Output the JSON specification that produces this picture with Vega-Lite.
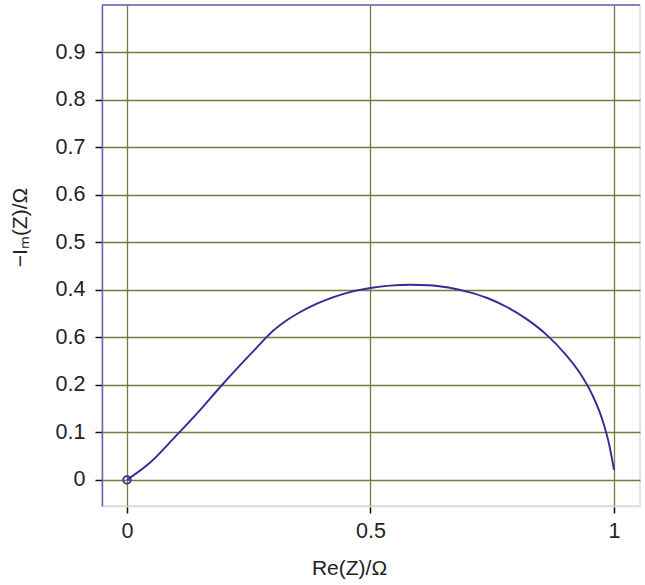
{
  "$schema": "https://vega.github.io/schema/vega-lite/v6.json",
  "autosize": "none",
  "width": 538,
  "height": 501,
  "padding": {"left": 102, "top": 5, "right": 5, "bottom": 79},
  "background": "white",
  "config": {
    "view": {"stroke": "#dcdcdc", "strokeWidth": 1.5},
    "font": "Liberation Sans"
  },
  "datasets": {
    "curve": [
      {"re": 0.0, "im": 0.0},
      {"re": 0.047, "im": 0.036},
      {"re": 0.1, "im": 0.092},
      {"re": 0.15, "im": 0.147},
      {"re": 0.19, "im": 0.194},
      {"re": 0.24, "im": 0.25},
      {"re": 0.265, "im": 0.277},
      {"re": 0.287, "im": 0.301},
      {"re": 0.3, "im": 0.314},
      {"re": 0.321, "im": 0.331},
      {"re": 0.355, "im": 0.353},
      {"re": 0.39, "im": 0.371},
      {"re": 0.424, "im": 0.385},
      {"re": 0.46, "im": 0.396},
      {"re": 0.5, "im": 0.404},
      {"re": 0.54, "im": 0.409},
      {"re": 0.58, "im": 0.411},
      {"re": 0.62, "im": 0.41},
      {"re": 0.66, "im": 0.405},
      {"re": 0.7, "im": 0.396},
      {"re": 0.74, "im": 0.383},
      {"re": 0.78, "im": 0.364},
      {"re": 0.82, "im": 0.339},
      {"re": 0.86, "im": 0.307},
      {"re": 0.9, "im": 0.265},
      {"re": 0.93, "im": 0.225},
      {"re": 0.955, "im": 0.18},
      {"re": 0.975, "im": 0.13},
      {"re": 0.99, "im": 0.075},
      {"re": 1.0, "im": 0.021}
    ],
    "marker": [{"re": 0.0, "im": 0.0}]
  },
  "layer": [
    {
      "data": {"name": "curve"},
      "mark": {"type": "line", "color": "#2e2e96", "strokeWidth": 1.9, "interpolate": "monotone", "clip": true},
      "encoding": {
        "x": {
          "field": "re", "type": "quantitative",
          "scale": {"domain": [-0.0513, 1.0534], "nice": false, "zero": false},
          "axis": {
            "title": "Re(Z)/Ω",
            "values": [0, 0.5, 1],
            "labelExpr": "datum.value == 0 ? '0' : datum.value == 1 ? '1' : '0.5'",
            "labelFont": "Liberation Sans",
            "titleFont": "Liberation Sans",
            "labelFontSize": 21.5,
            "titleFontSize": 21,
            "labelColor": "#222222",
            "titleColor": "#222222",
            "titleFontWeight": "normal",
            "tickColor": "#111111",
            "tickSize": 7,
            "tickWidth": 1.5,
            "gridColor": "#7a7a3c",
            "gridWidth": 1.3,
            "gridOpacity": 1,
            "domainColor": "#dcdcdc",
            "domainWidth": 1.5,
            "labelPadding": 7,
            "titleX": 247,
            "titleY": 68,
            "titleAnchor": null,
            "titleAlign": "center",
            "titleBaseline": "alphabetic"
          }
        },
        "y": {
          "field": "im", "type": "quantitative",
          "scale": {"domain": [-0.055, 1.0], "nice": false, "zero": false},
          "axis": {
            "title": "−Iₘ(Z)/Ω",
            "values": [0, 0.1, 0.2, 0.3, 0.4, 0.5, 0.6, 0.7, 0.8, 0.9],
            "labelExpr": "datum.value == 0 ? '0' : (abs(datum.value - 0.3) < 0.001 ? '0.6' : format(datum.value, '.1f'))",
            "labelFont": "Liberation Sans",
            "titleFont": "Liberation Sans",
            "labelFontSize": 21.5,
            "titleFontSize": 21,
            "labelColor": "#222222",
            "titleColor": "#222222",
            "titleFontWeight": "normal",
            "tickColor": "#111111",
            "tickSize": 7,
            "tickWidth": 1.5,
            "gridColor": "#7a7a3c",
            "gridWidth": 1.3,
            "gridOpacity": 1,
            "domainColor": "#6464b4",
            "domainWidth": 1.5,
            "labelPadding": 10,
            "titleAngle": -90,
            "titleX": -82,
            "titleY": 222,
            "titleAlign": "center",
            "titleBaseline": "middle",
            "titleAnchor": null
          }
        }
      }
    },
    {
      "data": {"name": "marker"},
      "mark": {"type": "point", "filled": false, "color": "#2e2e96", "strokeWidth": 1.8, "size": 55, "shape": "circle", "opacity": 1},
      "encoding": {
        "x": {"field": "re", "type": "quantitative"},
        "y": {"field": "im", "type": "quantitative"}
      }
    },
    {
      "data": {"values": [{}]},
      "mark": {"type": "rule", "color": "#6464b4", "strokeWidth": 1.5},
      "encoding": {
        "x": {"datum": -0.0513},
        "x2": {"datum": 1.0534},
        "y": {"datum": 1.0}
      }
    }
  ]
}
